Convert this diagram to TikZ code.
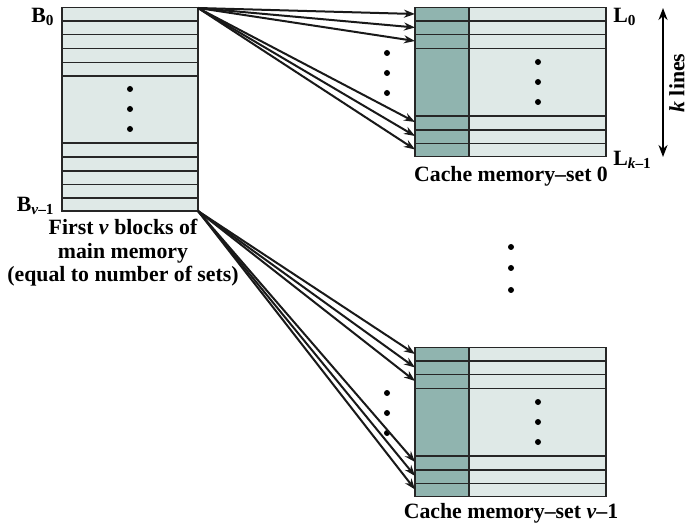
\documentclass[tikz,border=0pt]{standalone}
\usepackage{fontspec}
\setmainfont{Liberation Serif}
\usetikzlibrary{arrows.meta}
\definecolor{blockfill}{HTML}{DFE9E7}
\definecolor{tagfill}{HTML}{90B4AF}

\begin{document}
\begin{tikzpicture}[x=0.5pt,y=-0.5pt,font=\bfseries\fontsize{10.9}{11.8}\selectfont]
\tikzstyle{every node}+=[inner sep=0pt]
\tikzstyle{rowline}=[draw=black!85, line width=0.7pt]
\tikzstyle{dot}=[fill=black]
\tikzstyle{maparrow}=[draw=black!90, line width=1pt, -{Stealth[length=5.5pt,width=4pt]}]
\useasboundingbox (0,0) rectangle (688,528);
% main memory, first v blocks
\fill [blockfill] (62,7.5) rectangle (198,211);
\foreach \y in {21,34.5,48.5,62.5,76,143,157,171,184.5,198}
  \draw [rowline] (62,\y) -- (198,\y);
\draw [rowline] (62,7.5) rectangle (198,211);
\foreach \y in {89,109,129}
  \fill [dot] (130,\y) circle (3);
\coordinate (b0) at (198,8);
\coordinate (bv) at (198,211);
\node [anchor=east] (b0lab) at (55,17) {B\textsubscript{0}};
\node [anchor=east] (bvlab) at (55,206) {B\textsubscript{\textit{v}--1}};
\node [align=center, anchor=north] (mmlab) at (123,219) {First \textit{v} blocks of\\main memory\\(equal to number of sets)};
% the two cache sets
\foreach \s/\dy in {0/0,1/340} {
  \begin{scope}[shift={(0,\dy)}]
    \fill [blockfill] (415,7.3) rectangle (606,156.7);
    \fill [tagfill] (415,7.3) rectangle (469,156.7);
    \foreach \y in {21,34.7,48.7,116,130,143.3}
      \draw [rowline] (415,\y) -- (606,\y);
    \draw [rowline] (469,7.3) -- (469,156.7);
    \draw [rowline] (415,7.3) rectangle (606,156.7);
    \foreach \y in {62,82,102} {
      \fill [dot] (538,\y) circle (3);
      \fill [dot] (387,\y-9) circle (3);
    }
    \foreach \i/\y in {1/14,2/27.5,3/41,4/122,5/136,6/149.5}
      \coordinate (s\s-\i) at (415,\y);
  \end{scope}
}
% mapping of blocks onto lines
\foreach \i in {1,...,6} {
  \draw [maparrow] (b0) -- (s0-\i);
  \draw [maparrow] (bv) -- (s1-\i);
}
\node [anchor=west] (l0lab) at (613,17) {L\textsubscript{0}};
\node [anchor=west] (lklab) at (613,160) {L\textsubscript{\textit{k}--1}};
\node (set0lab) at (511,176) {Cache memory--set 0};
\node (setvlab) at (511,513) {Cache memory--set \textit{v}--1};
\foreach \y in {247,268,290}
  \fill [dot] (511,\y) circle (3);
% k lines
\coordinate (ktop) at (663,8);
\coordinate (kbot) at (663,157);
\draw [line width=1pt, {Stealth[length=6pt,width=4.5pt]}-{Stealth[length=6pt,width=4.5pt]}] (ktop) -- (kbot);
\node [rotate=90] (klab) at (677,83) {\textit{k} lines};
\end{tikzpicture}
\end{document}
